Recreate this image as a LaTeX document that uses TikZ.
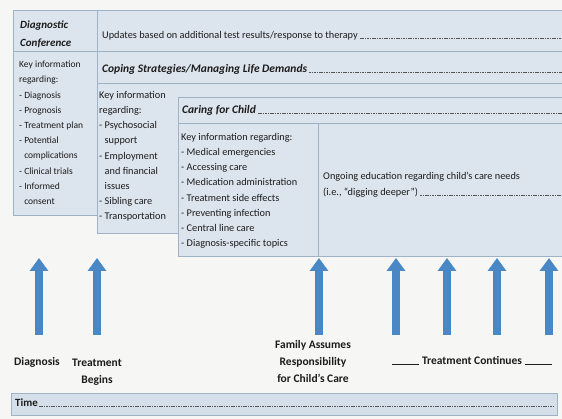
\documentclass[tikz,border=0pt]{standalone}
\usepackage{fontspec}
\setmainfont{Carlito}
\usetikzlibrary{arrows.meta}
\definecolor{panel}{HTML}{DCE4ED}
\definecolor{rim}{HTML}{A0B2C5}
\definecolor{ink}{HTML}{1C1C1C}
\definecolor{arrowblue}{HTML}{4A87C5}
\definecolor{paper}{HTML}{F6F6F5}
\definecolor{timebar}{HTML}{D5DFE9}

\begin{document}
\begin{tikzpicture}
[x=1pt,y=-1pt,%
  every node/.style={inner sep=0pt,text=ink,align=left},%
  body/.style={font=\fontsize{10.3}{15.2}\selectfont,anchor=north west},%
  small/.style={font=\fontsize{9.5}{15.2}\selectfont},%
  head/.style={font=\fontsize{11.5}{18}\selectfont\bfseries\itshape,anchor=west},%
  milestone/.style={font=\fontsize{11.5}{17}\selectfont\bfseries,align=center},%
  panelbox/.style={fill=panel,draw=rim,line width=0.8pt},%
  rule/.style={draw=rim,line width=0.8pt},%
  leader/.style={draw=ink!75,line width=0.8pt,dash pattern=on 1.6pt off 0.8pt},%
  uparrow/.style={draw=arrowblue,line width=8pt,%
    -{Triangle[length=13pt 0 0,width=18pt 0 0,fill=arrowblue]}}]
\useasboundingbox (0,0) rectangle (562,419);
\clip (0,0) rectangle (562,419);
\fill[paper] (0,0) rectangle (562,419);
\coordinate (rx) at (562,0);
\coordinate (tx) at (553,0);

\draw[panelbox] (13,10) rectangle (570,215);
\draw[rule] (13,51) -- (570,51);
\draw[rule] (97,10) -- (97,51);
\draw[panelbox] (97,51) rectangle (570,233);
\draw[rule] (97,83) -- (570,83);
\draw[panelbox] (178,97) rectangle (570,256);
\draw[rule] (178,123) -- (570,123);
\draw[rule] (318,123) -- (318,256);

\node[head,font=\fontsize{11}{18}\selectfont\bfseries\itshape] (conf) at (20,34)
  {Diagnostic\\Conference};
\node[body,anchor=west] (upd) at (102,36)
  {Updates based on additional test results/response to therapy};
\draw[leader] ([xshift=2pt]upd.base east) -- (upd.base east -| rx);
\node[head] (coping) at (102,69) {Coping Strategies/Managing Life Demands};
\draw[leader] ([xshift=2pt]coping.base east) -- (coping.base east -| rx);
\node[head] (caring) at (182,110) {Caring for Child};
\draw[leader] ([xshift=2pt]caring.base east) -- (caring.base east -| rx);

\node[body,small] (col1) at (19,61) {Key information\\regarding:\\- Diagnosis\\- Prognosis\\
  - Treatment plan\\- Potential\\\phantom{- }complications\\- Clinical trials\\
  - Informed\\\phantom{- }consent};
\node[body] (col2) at (99,91) {Key information\\regarding:\\- Psychosocial\\
  \phantom{- }support\\- Employment\\\phantom{- }and financial\\\phantom{- }issues\\
  - Sibling care\\- Transportation};
\node[body] (col3) at (181,133) {Key information regarding:\\- Medical emergencies\\
  - Accessing care\\- Medication administration\\- Treatment side effects\\
  - Preventing infection\\- Central line care\\- Diagnosis-specific topics};
\node[body,anchor=west] (ongoing) at (323,177)
  {Ongoing education regarding child's care needs};
\node[body,anchor=west] (deeper) at (323,193) {(i.e., ``digging deeper'')};
\draw[leader] ([xshift=2pt]deeper.base east) -- (deeper.base east -| rx);

\foreach \ax/\nm in {39/a,97/b,319/c,396/d,447/e,497/f,549/g} {
  \coordinate (\nm-foot) at (\ax,335);
  \coordinate (\nm-tip) at (\ax,258);
  \draw[uparrow] (\nm-foot) -- (\nm-tip);
}

\node[milestone] (diag) at (37,362) {Diagnosis};
\node[milestone] (treat) at (97,372) {Treatment\\Begins};
\node[milestone] (family) at (313,362) {Family Assumes\\Responsibility\\for Child's Care};
\node[milestone] (cont) at (472,360) {Treatment Continues};
\draw[ink,line width=0.8pt] ([xshift=-3pt]cont.base west) -- ([xshift=-30pt]cont.base west);
\draw[ink,line width=0.8pt] ([xshift=3pt]cont.base east) -- ([xshift=30pt]cont.base east);

\draw[fill=timebar,draw=rim,line width=0.8pt] (11,393) rectangle (557,415);
\node[font=\fontsize{11}{12}\selectfont\bfseries,anchor=west] (time) at (15,403) {Time};
\draw[leader] ([xshift=1pt]time.base east) -- (time.base east -| tx);
\end{tikzpicture}
\end{document}
